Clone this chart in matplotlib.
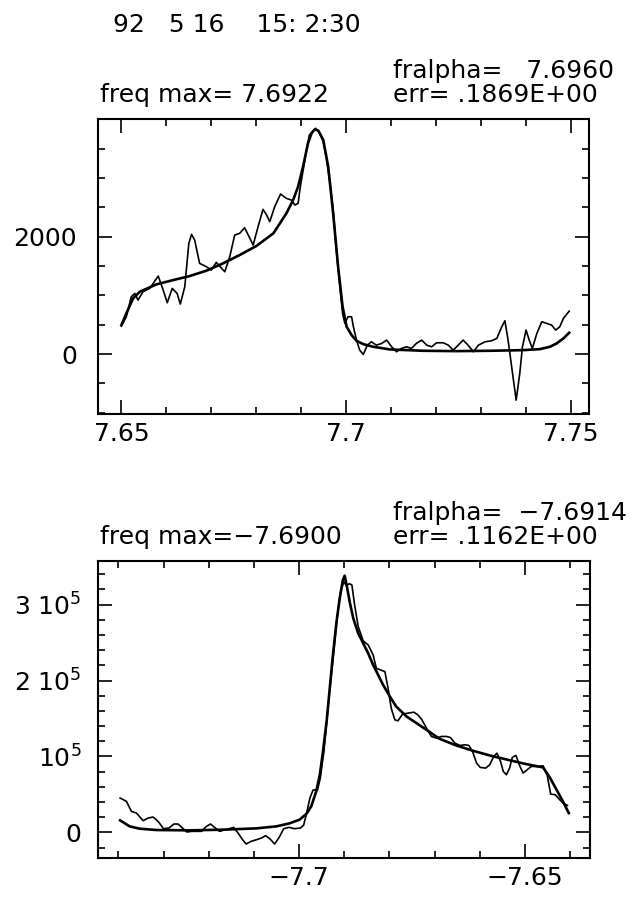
import matplotlib
matplotlib.use("Agg")
import matplotlib.pyplot as plt
from matplotlib.ticker import FixedLocator, MultipleLocator

plt.rcParams['font.family'] = ['DejaVu Sans']
plt.rcParams['mathtext.fontset'] = 'dejavusans'

# header / annotations
stamp = "92   5 16    15: 2:30"
top_info = ["freq max= 7.6922", "fralpha=   7.6960", "err= .1869E+00"]
bot_info = ["freq max=\u22127.6900", "fralpha=  \u22127.6914", "err= .1162E+00"]

# top panel: measured spectrum
top_x = [7.6500, 7.6511, 7.6522, 7.6530, 7.6537, 7.6548, 7.6563, 7.6582, 7.6593, 7.6602,
         7.6613, 7.6624, 7.6631, 7.6641, 7.6650, 7.6656, 7.6663, 7.6674, 7.6689, 7.6700,
         7.6711, 7.6723, 7.6730, 7.6741, 7.6752, 7.6763, 7.6774, 7.6784, 7.6793, 7.6804,
         7.6815, 7.6823, 7.6830, 7.6841, 7.6854, 7.6867, 7.6878, 7.6886, 7.6893, 7.6898,
         7.6908, 7.6918, 7.6925, 7.6932, 7.6941, 7.6949, 7.6956, 7.6964, 7.6971, 7.6978,
         7.6986, 7.6992, 7.6997, 7.7004, 7.7012, 7.7016, 7.7023, 7.7030, 7.7038, 7.7047,
         7.7056, 7.7067, 7.7079, 7.7090, 7.7101, 7.7112, 7.7123, 7.7134, 7.7145, 7.7156,
         7.7168, 7.7179, 7.7190, 7.7201, 7.7216, 7.7227, 7.7238, 7.7249, 7.7260, 7.7271,
         7.7283, 7.7294, 7.7309, 7.7323, 7.7335, 7.7346, 7.7353, 7.7360, 7.7368, 7.7378,
         7.7386, 7.7392, 7.7400, 7.7407, 7.7414, 7.7424, 7.7435, 7.7446, 7.7457, 7.7466,
         7.7475, 7.7483, 7.7496]
top_y = [477, 636, 977, 1034, 920, 1063, 1119, 1330, 1091, 875,
         1119, 1034, 852, 1148, 1886, 2040, 1943, 1546, 1489, 1432,
         1563, 1460, 1403, 1659, 2028, 2057, 2153, 2000, 1858, 2171,
         2466, 2369, 2256, 2511, 2727, 2653, 2625, 2540, 2568, 2852,
         3307, 3733, 3790, 3847, 3761, 3619, 3335, 2909, 2455, 1773,
         1148, 693, 523, 636, 636, 466, 239, 68, -6, 153,
         210, 153, 182, 239, 125, 40, 97, 125, 97, 182,
         239, 153, 125, 193, 193, 153, 68, 153, 239, 153,
         40, 153, 210, 227, 267, 466, 568, 239, -216, -784,
         -330, 125, 409, 239, 97, 352, 551, 523, 494, 409,
         466, 608, 733]

# top panel: fitted profile
top_fx = [7.6500, 7.6511, 7.6526, 7.6541, 7.6578, 7.6615, 7.6652, 7.6689, 7.6726, 7.6763,
          7.6800, 7.6838, 7.6867, 7.6882, 7.6893, 7.6904, 7.6915, 7.6923, 7.6930, 7.6938,
          7.6949, 7.6960, 7.6971, 7.6982, 7.6992, 7.7001, 7.7012, 7.7023, 7.7038, 7.7060,
          7.7097, 7.7171, 7.7245, 7.7320, 7.7394, 7.7431, 7.7453, 7.7468, 7.7483, 7.7496]
top_fy = [494, 693, 949, 1063, 1188, 1261, 1330, 1421, 1546, 1688,
          1841, 2057, 2398, 2625, 2852, 3193, 3591, 3761, 3830, 3807,
          3648, 3193, 2398, 1489, 807, 466, 324, 227, 170, 125,
          80, 57, 51, 57, 68, 85, 125, 182, 267, 364]

# bottom panel: measured spectrum
bot_x = [-7.7396, -7.7382, -7.7371, -7.7360, -7.7345, -7.7334, -7.7323, -7.7312, -7.7300, -7.7288,
         -7.7277, -7.7268, -7.7258, -7.7248, -7.7238, -7.7227, -7.7216, -7.7205, -7.7196, -7.7187,
         -7.7176, -7.7165, -7.7154, -7.7145, -7.7135, -7.7125, -7.7117, -7.7106, -7.7094, -7.7083,
         -7.7074, -7.7065, -7.7054, -7.7044, -7.7034, -7.7022, -7.7010, -7.6997, -7.6990, -7.6984,
         -7.6976, -7.6969, -7.6959, -7.6953, -7.6945, -7.6938, -7.6931, -7.6923, -7.6916, -7.6908,
         -7.6901, -7.6895, -7.6889, -7.6883, -7.6877, -7.6869, -7.6858, -7.6847, -7.6836, -7.6829,
         -7.6820, -7.6810, -7.6803, -7.6796, -7.6788, -7.6781, -7.6771, -7.6759, -7.6746, -7.6737,
         -7.6728, -7.6718, -7.6707, -7.6696, -7.6685, -7.6674, -7.6665, -7.6655, -7.6644, -7.6633,
         -7.6624, -7.6616, -7.6607, -7.6599, -7.6587, -7.6578, -7.6569, -7.6562, -7.6554, -7.6548,
         -7.6541, -7.6534, -7.6528, -7.6520, -7.6511, -7.6504, -7.6495, -7.6486, -7.6471, -7.6460,
         -7.6451, -7.6443, -7.6433, -7.6423, -7.6416, -7.6406]
bot_y = [45200, 40790, 27630, 25440, 15350, 18860, 20180, 14470, 4820, 5700,
         10970, 10970, 5700, 440, 1320, 1320, 1320, 7890, 10970, 6580,
         1320, 3070, 4820, 6580, -880, -9650, -15350, -11840, -9650, -7460,
         -4390, -8330, -15350, -6580, 4820, 6580, 4820, 5700, 9210, 23250,
         45180, 55700, 56140, 71490, 106580, 150440, 194300, 238160, 282020, 317110,
         330260, 325000, 327600, 325900, 299560, 271050, 252200, 246930, 233770, 216230,
         214040, 211840, 189910, 163600, 148250, 146930, 155700, 157020, 158330, 154830,
         148250, 137280, 126320, 124120, 126320, 126320, 125000, 117540, 114470, 115350,
         114470, 106580, 91230, 85530, 84650, 89040, 100000, 104390, 93420, 80260,
         75880, 84650, 98690, 101320, 86840, 78070, 82460, 86840, 86840, 87720,
         75880, 50440, 49560, 42980, 38600, 35530]

# bottom panel: fitted profile
bot_fx = [-7.7396, -7.7375, -7.7353, -7.7316, -7.7242, -7.7168, -7.7094, -7.7050, -7.7021, -7.6999,
          -7.6984, -7.6973, -7.6962, -7.6954, -7.6947, -7.6939, -7.6932, -7.6925, -7.6917, -7.6910,
          -7.6903, -7.6899, -7.6894, -7.6888, -7.6880, -7.6869, -7.6858, -7.6847, -7.6836, -7.6825,
          -7.6814, -7.6799, -7.6785, -7.6762, -7.6740, -7.6718, -7.6689, -7.6652, -7.6615, -7.6578,
          -7.6541, -7.6504, -7.6475, -7.6460, -7.6445, -7.6430, -7.6416, -7.6403]
bot_fy = [15790, 7890, 4820, 3070, 2630, 3510, 5260, 7890, 11840, 16670,
          24120, 34210, 53950, 75880, 106580, 146050, 189910, 233770, 277630, 308340,
          332460, 338160, 323690, 303950, 282020, 262280, 249120, 235970, 220620, 207460,
          194300, 178950, 165790, 152630, 143860, 135090, 123250, 114470, 107460, 101320,
          96050, 90790, 87280, 85530, 72370, 56140, 40790, 25440]

top_xticks = [7.65, 7.70, 7.75]
top_xlabels = ["7.65", "7.7", "7.75"]
top_yticks = [0, 2000]
top_ylabels = ["0", "2000"]
bot_xticks = [-7.70, -7.65]
bot_xlabels = ["\u22127.7", "\u22127.65"]
bot_yticks = [0, 1e5, 2e5, 3e5]
bot_ylabels = ["0", r"$10^5$", r"2 $10^5$", r"3 $10^5$"]

W, H = 637, 901
fig = plt.figure(figsize=(W / 100, H / 100), dpi=100)


def px_axes(x0, y0, x1, y1):
    return fig.add_axes([x0 / W, 1 - y1 / H, (x1 - x0) / W, (y1 - y0) / H])


def style(ax, ypad):
    for s in ax.spines.values():
        s.set_linewidth(1.5)
    ax.tick_params(which='both', direction='in', top=True, right=True,
                   labelsize=18, width=1.2)
    ax.tick_params(which='major', length=10)
    ax.tick_params(which='minor', length=5)
    ax.tick_params(axis='x', pad=6)
    ax.tick_params(axis='y', pad=ypad)


ax1 = px_axes(98, 119, 589, 414)
ax1.plot(top_x, top_y, color='black', lw=1.2)
ax1.plot(top_fx, top_fy, color='black', lw=1.9)
ax1.set_xlim(7.6448, 7.7540)
ax1.set_ylim(-1020, 4005)
ax1.set_xticks(top_xticks, top_xlabels)
ax1.set_yticks(top_yticks, top_ylabels)
ax1.xaxis.set_minor_locator(MultipleLocator(0.01))
ax1.yaxis.set_minor_locator(MultipleLocator(500))
style(ax1, 15)

ax2 = px_axes(98, 561, 590, 858)
ax2.plot(bot_x, bot_y, color='black', lw=1.2)
ax2.plot(bot_fx, bot_fy, color='black', lw=1.9)
ax2.set_xlim(-7.7445, -7.6356)
ax2.set_ylim(-33800, 357500)
ax2.set_xticks(bot_xticks, bot_xlabels)
ax2.set_yticks(bot_yticks, bot_ylabels)
ax2.xaxis.set_minor_locator(FixedLocator([-7.74, -7.73, -7.72, -7.71, -7.69, -7.68, -7.67, -7.66, -7.64]))
ax2.yaxis.set_minor_locator(MultipleLocator(20000))
style(ax2, 12)


def ptext(x, y, s):
    fig.text(x / W, 1 - y / H, s, fontsize=18, ha='left', va='baseline')


ptext(113, 32, stamp)
ptext(100, 102, top_info[0])
ptext(393, 78, top_info[1])
ptext(393, 102, top_info[2])
ptext(100, 544, bot_info[0])
ptext(393, 520, bot_info[1])
ptext(393, 544, bot_info[2])

fig.savefig("out.png", dpi=100)
